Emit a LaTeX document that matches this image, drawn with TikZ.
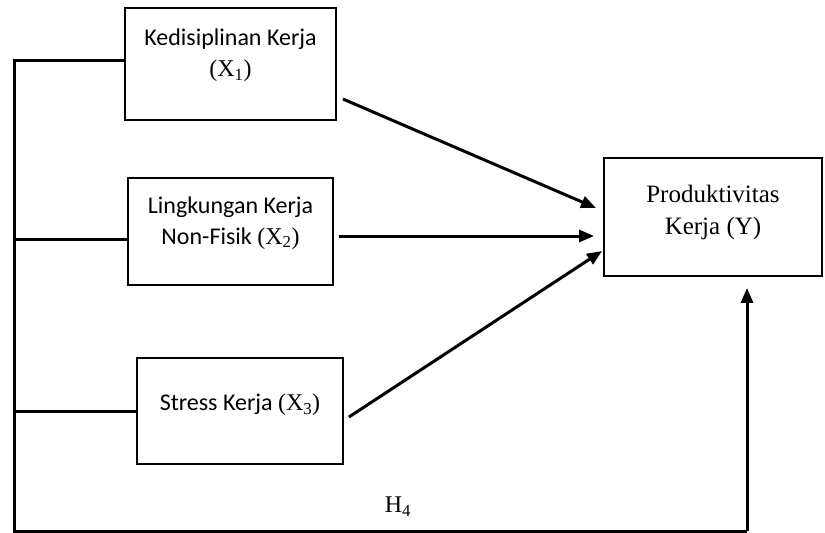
\documentclass[tikz,border=0pt]{standalone}
\usepackage{fontspec}
\setmainfont{Carlito}
\newfontfamily\tnr{Liberation Serif}
\usetikzlibrary{arrows.meta,calc}
\newcommand{\xsub}[1]{{\tnr(X\textsubscript{#1})}}
\tikzset{
  varbox/.style={draw, line width=1.9pt, inner sep=0pt, align=center, font=\fontsize{24}{31}\selectfont},
  ybox/.style={draw, line width=1.9pt, inner sep=0pt, align=center, font=\tnr\fontsize{25}{37}\selectfont},
  conn/.style={line width=3pt},
  arr/.style={line width=3pt, -{Triangle[length=15pt,width=12pt]}},
  lbl/.style={font=\tnr\fontsize{24}{28}\selectfont, inner sep=0pt}
}
\begin{document}
\begin{tikzpicture}[x=1pt,y=-1pt]
\useasboundingbox (0,0) rectangle (825,533);
\node[varbox, minimum width=211pt, minimum height=112pt] (x1) at (230.5,64) {\raisebox{22pt}{\shortstack{Kedisiplinan Kerja\\[7pt]\xsub{1}}}};
\node[varbox, minimum width=205pt, minimum height=107pt] (x2) at (230.5,231.5) {\raisebox{22pt}{\shortstack{Lingkungan Kerja\\[7pt]Non-Fisik \xsub{2}}}};
\node[varbox, minimum width=206pt, minimum height=106pt] (x3) at (240,411) {\raisebox{17pt}{Stress Kerja \xsub{3}}};
\node[ybox, minimum width=218pt, minimum height=118pt] (y) at (713,217) {\raisebox{14pt}{\shortstack{Produktivitas\\[12pt]Kerja (Y)}}};
\coordinate (tl) at (14,60);
\coordinate (bl) at (14,531);
\coordinate (br) at (747,531);
\draw[conn] (x1.west |- tl) -- (tl) -- (bl) -- (br);
\draw[conn] (x2.west |- 0,239) -- (tl |- 0,239);
\draw[conn] (x3.west) -- (tl |- x3.west);
\draw[arr, shorten >=11pt] (br) -- (br |- y.south);
\draw[arr] ($(x1.east)+(6,35)$) -- ($(y.west)+(-7,-9)$);
\draw[arr] ($(x2.east)+(5,4.5)$) -- ($(y.west)+(-9,19)$);
\draw[arr] ($(x3.east)+(5,6)$) -- ($(y.west)+(-1,34)$);
\node[lbl] (h4) at (398,507) {H\textsubscript{4}};
\end{tikzpicture}
\end{document}
